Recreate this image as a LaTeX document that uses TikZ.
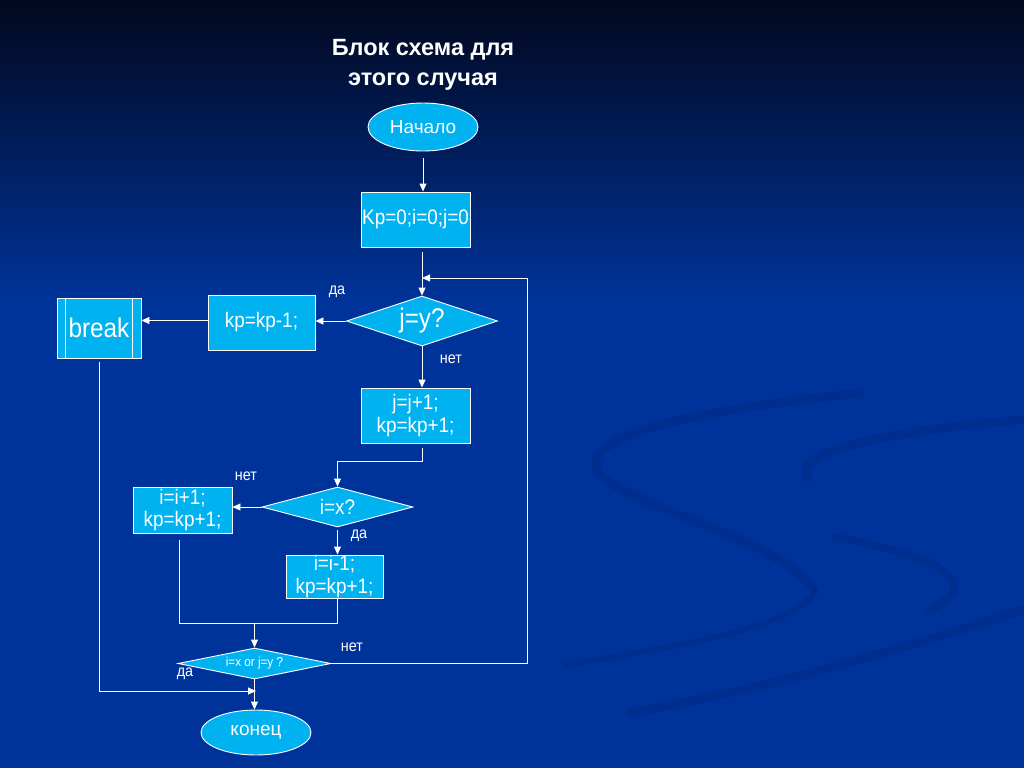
\documentclass[tikz,border=0pt]{standalone}
\usepackage{fontspec}
\setmainfont{Liberation Sans}
\newfontfamily\bxfont[FakeStretch=0.9]{Liberation Sans}
\usetikzlibrary{shapes.geometric,arrows.meta,calc}
\definecolor{bgmain}{RGB}{0,51,153}
\definecolor{bgtop}{RGB}{2,8,30}
\definecolor{swoosh}{RGB}{0,40,130}
\definecolor{cyanbox}{RGB}{0,178,240}
\tikzset{
  fb/.style={draw=white,line width=0.9pt,fill=cyanbox,text=white,align=center,inner sep=0pt},
  procbox/.style={fb,rectangle},
  decbox/.style={fb,diamond},
  termbox/.style={fb,ellipse},
  conn/.style={draw=white,line width=0.9pt},
  arr/.style={conn,-{Triangle[width=7pt,length=8pt]}},
  lbl/.style={text=white,font=\bxfont\fontsize{16}{17}\selectfont,inner sep=0pt},
  f22/.style={font=\bxfont\fontsize{21}{22.5}\selectfont},
  f19/.style={font=\fontsize{19}{22}\selectfont},
}
\begin{document}
\begin{tikzpicture}[x=1pt,y=-1pt]
\useasboundingbox (0,0) rectangle (1024,768);
% background
\fill[bgmain] (0,0) rectangle (1024,768);
\shade[top color=bgtop,bottom color=bgmain] (0,0) rectangle (1024,300);
% faint swooshes
\begin{scope}[swoosh,line cap=round,opacity=0.4]
\draw[line width=9pt] (860,393) .. controls (700,410) and (570,435) .. (600,475)
  .. controls (640,510) and (780,540) .. (815,590);
\draw[line width=6pt] (815,590) .. controls (800,630) and (650,650) .. (565,665);
\draw[line width=9pt] (1020,420) .. controls (900,430) and (790,450) .. (808,478);
\draw[line width=8pt] (835,537) .. controls (930,555) and (990,580) .. (930,610);
\draw[line width=9pt] (1022,610) .. controls (900,650) and (760,690) .. (630,713);
\end{scope}
% title
\node[text=white,align=center,font=\bfseries\fontsize{23.5}{30}\selectfont] (title) at (423,65) {Блок схема для\\этого случая};
% nodes
\node[termbox,f19,minimum width=110pt,minimum height=48pt] (start) at (423,127) {Начало};
\node[procbox,f22,minimum width=109pt,minimum height=55pt] (kp) at (415.5,219.5) {Kp=0;i=0;j=0};
\node[decbox,aspect=3,font=\bxfont\fontsize{27}{28}\selectfont,minimum width=151pt,minimum height=50pt] (d1) at (422,321) {j=y?};
\node[procbox,f22,minimum width=107pt,minimum height=55pt] (kpm) at (261.5,322.5) {kp=kp-1;};
\node[procbox,font=\bxfont\fontsize{27}{28}\selectfont,minimum width=84pt,minimum height=60pt] (brk) at (99,328) {break};
\draw[white,line width=0.9pt] ($(brk.north west)+(9,0)$) -- ($(brk.south west)+(9,0)$)
  ($(brk.north east)+(-9,0)$) -- ($(brk.south east)+(-9,0)$);
\node[procbox,f22,minimum width=109pt,minimum height=55pt] (jj) at (415.5,415.5) {j=j+1;\\kp=kp+1;};
\node[decbox,aspect=3,font=\bxfont\fontsize{21}{22}\selectfont,minimum width=151pt,minimum height=40pt] (d2) at (337.5,507) {i=x?};
\node[procbox,f22,minimum width=99pt,minimum height=46pt] (ii) at (182.5,510) {i=i+1;\\kp=kp+1;};
\node[procbox,f22,minimum width=97pt,minimum height=43pt] (im) at (334.5,576.5) {i=i-1;\\kp=kp+1;};
\node[decbox,aspect=6,font=\bxfont\fontsize{13}{14}\selectfont,minimum width=153pt,minimum height=31pt] (d3) at (254.5,663.5) {i=x or j=y ?};
\node[termbox,f19,minimum width=110pt,minimum height=45pt] (end) at (256,732.5) {конец};
% coordinates
\coordinate (loopR) at (527,278);
\coordinate (brkJ) at (255,691);
\coordinate (mergeL) at (179,623);
% connectors
\draw[arr] ([yshift=-7pt]start.south) -- (start.south |- kp.north);
\draw[arr] ([yshift=-5pt]kp.south -| d1.north) -- (d1.north);
\draw[conn] (d3.east) -| (loopR);
\draw[arr] (loopR) -- (loopR -| d1.north);
\draw[arr] (d1.west) -- (d1.west -| kpm.east);
\draw[arr] ([yshift=2pt]kpm.west) -- ([yshift=2pt]kpm.west -| brk.east);
\draw[conn] ([yshift=-4pt]brk.south) -- (brk.south |- brkJ);
\draw[arr] (brk.south |- brkJ) -- ([xshift=1pt]brkJ);
\draw[arr] (d1.south) -- (d1.south |- jj.north);
\draw[arr] ([yshift=-5pt]jj.south -| d1.south) -- ++(0,13) -| (d2.north);
\draw[arr] (d2.west) -- (d2.west -| ii.east);
\draw[arr] ([yshift=-3pt]d2.south) -- (d2.south |- im.north);
\draw[conn] ([yshift=-7pt]ii.south -| mergeL) -- (mergeL) -- (mergeL -| d2.south) -- (im.south -| d2.south);
\draw[arr] (mergeL -| d3.north) -- (d3.north);
\draw[arr] (d3.south) -- (d3.south |- end.north);
% labels
\node[lbl] at (337,292) {да};
\node[lbl] at (451,359) {нет};
\node[lbl] at (246,476) {нет};
\node[lbl] at (359,536) {да};
\node[lbl] at (352,647) {нет};
\node[lbl] at (185,674) {да};
\end{tikzpicture}
\end{document}
